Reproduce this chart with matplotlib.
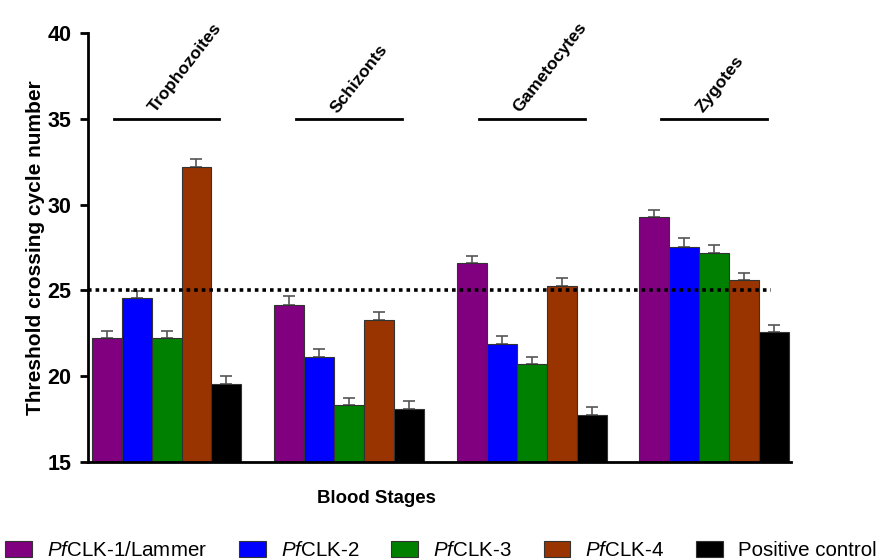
import numpy as np
import matplotlib
matplotlib.use("Agg")
import matplotlib.pyplot as plt
from matplotlib.patches import Patch

plt.rcParams["font.family"] = ["Liberation Sans", "DejaVu Sans"]
plt.rcParams["mathtext.fontset"] = "custom"
plt.rcParams["mathtext.it"] = "Liberation Sans:italic"
plt.rcParams["mathtext.rm"] = "Liberation Sans"

stages = ["Trophozoites", "Schizonts", "Gametocytes", "Zygotes"]
series = [r"$\it{Pf}$CLK-1/Lammer", r"$\it{Pf}$CLK-2", r"$\it{Pf}$CLK-3",
          r"$\it{Pf}$CLK-4", "Positive control"]
colors = ["#800080", "#0000ff", "#008000", "#993300", "#000000"]

# Ct values per series, one value per stage
clk1 = [22.2, 24.15, 26.6, 29.25]
clk2 = [24.55, 21.1, 21.85, 27.55]
clk3 = [22.2, 18.3, 20.7, 27.2]
clk4 = [32.2, 23.3, 25.25, 25.6]
control = [19.55, 18.1, 17.75, 22.55]

clk1_err = [0.42, 0.5, 0.42, 0.43]
clk2_err = [0.42, 0.48, 0.47, 0.52]
clk3_err = [0.42, 0.42, 0.42, 0.43]
clk4_err = [0.43, 0.42, 0.5, 0.43]
control_err = [0.45, 0.43, 0.43, 0.43]

values = [clk1, clk2, clk3, clk4, control]
errors = [clk1_err, clk2_err, clk3_err, clk4_err, control_err]

threshold = 25
bracket_y = 35

fig = plt.figure(figsize=(8.82, 5.6), dpi=100)
ax = fig.add_axes([0.0998, 0.175, 0.797, 0.766])

x = np.arange(len(stages))
w = 0.164
for i, (vals, errs, c) in enumerate(zip(values, errors, colors)):
    pos = x + (i - 2) * w
    ax.bar(pos, vals, width=w, color=c, edgecolor="#333333", linewidth=0.8, zorder=2)
    ax.errorbar(pos, vals, yerr=[np.zeros(len(errs)), errs], fmt="none",
                ecolor="#555555", elinewidth=1.2, capsize=4, capthick=1.2, zorder=1)

ax.plot([-0.43, 3.31], [threshold, threshold], color="black", lw=2.6,
        dashes=(1, 1.1), zorder=3)

for xi, name in zip(x, stages):
    ax.plot([xi - 0.29, xi + 0.29], [bracket_y, bracket_y], color="black", lw=2)
    ax.text(xi - 0.05, bracket_y + 0.2, name, rotation=52, rotation_mode="anchor",
            ha="left", va="bottom", fontsize=12.5, fontweight="bold")

ax.set_xlim(-0.43, 3.42)
ax.set_ylim(15, 40)
ax.set_yticks([15, 20, 25, 30, 35, 40])
ax.set_xticks([])
for s in ["top", "right"]:
    ax.spines[s].set_visible(False)
ax.spines["left"].set_linewidth(2)
ax.spines["bottom"].set_linewidth(2)
ax.tick_params(axis="y", length=6, width=2, labelsize=15.5, pad=6)
for lab in ax.get_yticklabels():
    lab.set_fontweight("bold")

ax.set_ylabel("Threshold crossing cycle number", fontsize=15, fontweight="bold", labelpad=2)
ax.text(0.41, -0.085, "Blood Stages", transform=ax.transAxes, ha="center",
        va="center", fontsize=13.4, fontweight="bold")

handles = [Patch(facecolor=c, edgecolor="#333333", linewidth=0.8) for c in colors]
fig.legend(handles, series, loc="lower center", bbox_to_anchor=(0.5, -0.022), ncol=5,
           frameon=False, fontsize=14.8, handlelength=1.31, handleheight=0.78,
           handletextpad=0.73, columnspacing=1.55, borderaxespad=0.2)

fig.savefig("out.png", dpi=100)
